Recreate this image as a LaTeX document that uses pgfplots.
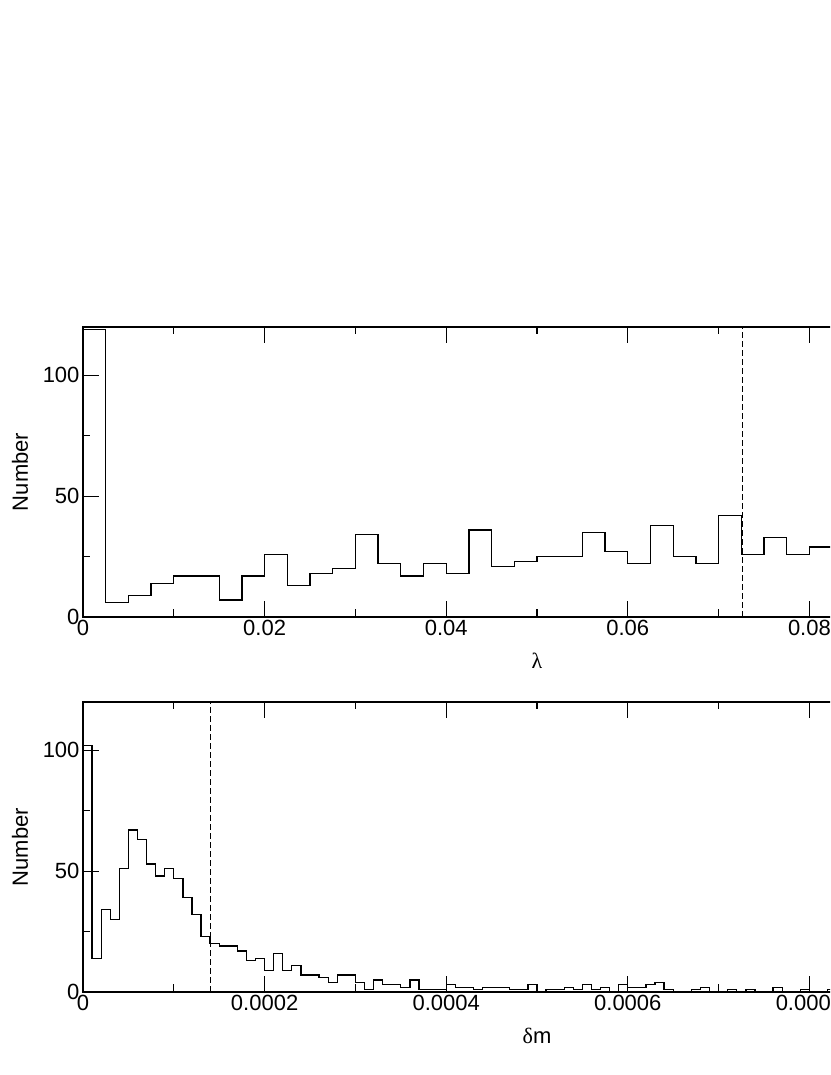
\documentclass[border=0pt]{standalone}
\usepackage{fontspec}
\setmainfont{Liberation Sans}
\newfontfamily\grk{Liberation Serif}
\usepackage{pgfplots}
\pgfplotsset{compat=1.18}
\pgfplotsset{
  histaxis/.style={
    width=908pt, height=290pt, scale only axis,
    ymin=0, ymax=120, ytick={0,50,100},
    minor x tick num=1, minor y tick num=1,
    major tick length=16pt, minor tick length=7.5pt,
    axis line style={line width=1.3pt, black},
    tick style={line width=1.2pt, black},
    tick label style={font=\fontsize{22}{26}\selectfont},
    label style={font=\fontsize{22}{26}\selectfont},
    /pgf/number format/assume math mode=true,
    scaled x ticks=false,
    xlabel style={at={(axis description cs:0.5,-0.152)}, anchor=center},
    ylabel style={at={(axis description cs:-0.0694,0.5)}, anchor=center},
    ylabel={Number},
  },
  hist/.style={black, line width=1.3pt, const plot, mark=none, line join=miter},
  vline/.style={black, line width=1.2pt, dash pattern=on 6pt off 3pt},
}
\begin{document}
\begin{tikzpicture}[x=1pt,y=1pt]
\useasboundingbox (0,0) rectangle (830,1075);
\clip (0,0) rectangle (830,1075);
\begin{axis}[histaxis, at={(83pt,458pt)}, anchor=south west,
  xmin=0, xmax=0.1,
  xtick={0,0.02,0.04,0.06,0.08,0.1},
  xticklabels={0,0.02,0.04,0.06,0.08,0.1},
  xlabel={{\grk λ}}]
\addplot[hist] coordinates {
(0,119) (0.0025,6) (0.005,9) (0.0075,14) (0.01,17) (0.0125,17) (0.015,7) (0.0175,17)
(0.02,26) (0.0225,13) (0.025,18) (0.0275,20) (0.03,34) (0.0325,22) (0.035,17) (0.0375,22)
(0.04,18) (0.0425,36) (0.045,21) (0.0475,23) (0.05,25) (0.0525,25) (0.055,35) (0.0575,27)
(0.06,22) (0.0625,38) (0.065,25) (0.0675,22) (0.07,42) (0.0725,26) (0.075,33) (0.0775,26)
(0.08,29) (0.0825,29)
};
\addplot[vline] coordinates {(0.0726,0) (0.0726,120)};
\end{axis}
\begin{axis}[histaxis, at={(83pt,83pt)}, anchor=south west,
  xmin=0, xmax=0.001,
  xtick={0,0.0002,0.0004,0.0006,0.0008,0.001},
  xticklabels={0,0.0002,0.0004,0.0006,0.0008,0.001},
  xlabel={{\grk δ}m}]
\addplot[hist] coordinates {
(0,102) (0.00001,14) (0.00002,34) (0.00003,30) (0.00004,51) (0.00005,67) (0.00006,63) (0.00007,53)
(0.00008,48) (0.00009,51) (0.00010,47) (0.00011,39) (0.00012,32) (0.00013,23) (0.00014,20) (0.00015,19)
(0.00016,19) (0.00017,17) (0.00018,13) (0.00019,14) (0.00020,9) (0.00021,16) (0.00022,9) (0.00023,11)
(0.00024,7) (0.00025,7) (0.00026,6) (0.00027,4) (0.00028,7) (0.00029,7) (0.00030,4) (0.00031,1)
(0.00032,5) (0.00033,3) (0.00034,3) (0.00035,2) (0.00036,5) (0.00037,1) (0.00038,1) (0.00039,1)
(0.00040,3) (0.00041,2) (0.00042,2) (0.00043,1) (0.00044,2) (0.00045,2) (0.00046,2) (0.00047,1)
(0.00048,1) (0.00049,3) (0.00050,0) (0.00051,1) (0.00052,1) (0.00053,2) (0.00054,1) (0.00055,3)
(0.00056,1) (0.00057,2) (0.00058,0) (0.00059,3) (0.00060,2) (0.00061,2) (0.00062,3) (0.00063,4)
(0.00064,1) (0.00065,0) (0.00066,0) (0.00067,1) (0.00068,2) (0.00069,0) (0.00070,0) (0.00071,1)
(0.00072,0) (0.00073,1) (0.00074,0) (0.00075,0) (0.00076,2) (0.00077,0) (0.00078,0) (0.00079,1)
(0.00080,0) (0.00081,0) (0.00082,1) (0.00083,1)
};
\addplot[vline] coordinates {(0.00014,0) (0.00014,120)};
\end{axis}
\end{tikzpicture}
\end{document}
